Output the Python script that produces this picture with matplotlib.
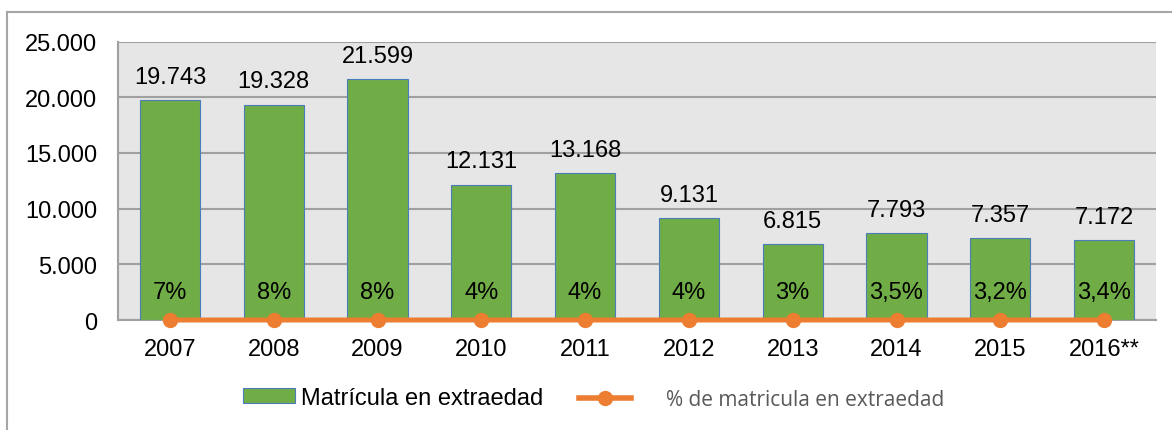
import matplotlib.pyplot as plt
from matplotlib.lines import Line2D
from matplotlib.patches import Patch

years = ['2007', '2008', '2009', '2010', '2011', '2012', '2013', '2014', '2015', '2016**']
matricula = [19743, 19328, 21599, 12131, 13168, 9131, 6815, 7793, 7357, 7172]
pct = [0.07, 0.08, 0.08, 0.04, 0.04, 0.04, 0.03, 0.035, 0.032, 0.034]
pct_labels = ['7%', '8%', '8%', '4%', '4%', '4%', '3%', '3,5%', '3,2%', '3,4%']
yticks = [0, 5000, 10000, 15000, 20000, 25000]
ytick_labels = ['0', '5.000', '10.000', '15.000', '20.000', '25.000']

plt.rcParams['font.family'] = ['Liberation Sans', 'DejaVu Sans']
green = '#70AD47'
orange = '#ED7D31'
fs = 17

fig = plt.figure(figsize=(11.72, 4.31), dpi=100)
ax = fig.add_axes([118/1172, 1-321/431, (1156-118)/1172, (321-42.5)/431])
ax.set_facecolor('#e6e6e6')

x = list(range(len(years)))
ax.bar(x, matricula, width=0.58, color=green, edgecolor='#4a7ebb', linewidth=0.8, zorder=3)
ax.plot(x, pct, color=orange, lw=3.6, marker='o', ms=10, zorder=4, clip_on=False)

for i, v in enumerate(matricula):
    s = f'{v:,}'.replace(',', '.')
    ax.annotate(s, (i, v), xytext=(0, 9), textcoords='offset points',
                ha='center', va='bottom', fontsize=fs, zorder=5)
for i, s in enumerate(pct_labels):
    ax.annotate(s, (i, 0), xytext=(0, 20), textcoords='offset points',
                ha='center', va='center', fontsize=fs, zorder=5)

ax.set_xlim(-0.5, 9.5)
ax.set_ylim(0, 25000)
ax.set_yticks(yticks)
ax.set_yticklabels(ytick_labels)
ax.set_xticks(x)
ax.set_xticklabels(years)
ax.tick_params(axis='both', length=0, labelsize=fs)
ax.tick_params(axis='y', pad=15)
ax.tick_params(axis='x', pad=13)
ax.grid(axis='y', color='#a0a0a0', lw=1.5, zorder=1)
ax.set_axisbelow(True)
for sp in ['top', 'right']:
    ax.spines[sp].set_visible(False)
for sp in ['left', 'bottom']:
    ax.spines[sp].set_color('#a0a0a0')
    ax.spines[sp].set_linewidth(1.5)

# outer chart frame
fig.add_artist(Line2D([7/1172, 1], [1-13/431, 1-13/431], color='#a6a6a6', lw=1.5))
fig.add_artist(Line2D([7/1172, 7/1172], [0, 1-13/431], color='#a6a6a6', lw=1.5))

leg1 = fig.legend(handles=[Patch(facecolor=green, edgecolor='#4a7ebb', lw=0.8)],
                  labels=['Matrícula en extraedad'], loc='center left',
                  bbox_to_anchor=(222/1172, 1-399/431), frameon=False, fontsize=fs,
                  handlelength=2.2, handleheight=0.6, handletextpad=0.25)
leg2 = fig.legend(handles=[Line2D([], [], color=orange, lw=4, marker='o', ms=10)],
                  labels=['% de matricula en extraedad'], loc='center left',
                  bbox_to_anchor=(560/1172, 1-401/431), frameon=False,
                  handlelength=2.5, handletextpad=1.7, prop={'family': 'Open Sans', 'size': 15})
for t in leg2.get_texts():
    t.set_color('#595959')

fig.savefig('out.png', dpi=100)
